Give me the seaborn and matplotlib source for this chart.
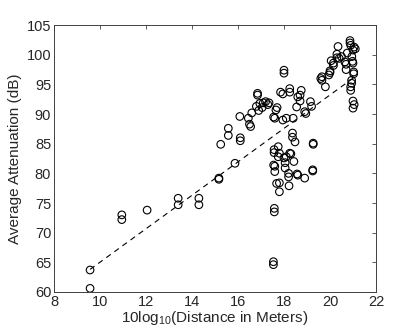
import numpy as np
import pandas as pd
import matplotlib
matplotlib.use('Agg')
import matplotlib.pyplot as plt
import seaborn as sns

# 10log10(distance) and average attenuation
dist_db = [9.57, 9.57, 10.95, 10.95, 12.05, 13.4, 13.4, 14.3, 14.3, 15.17, 15.17,
           15.25, 15.58, 15.58, 15.87, 16.08, 16.1, 16.1, 16.45, 16.5, 16.55, 16.6,
           16.85, 16.85, 16.8, 16.9, 16.95, 17.05, 17.1, 17.2, 17.3, 17.35, 17.55,
           17.6, 17.65, 17.7, 17.85, 17.95, 17.95, 18.0, 18.0, 18.1, 18.25, 18.25,
           18.4, 18.55, 18.6, 18.7, 18.7, 18.75, 18.9, 18.95, 19.15, 19.2, 19.6,
           19.65, 19.65, 19.8, 19.95, 20.0, 20.0, 20.05, 20.15, 20.15, 20.3, 20.3,
           20.35, 20.4, 20.5, 20.65, 20.7, 20.7, 20.75, 20.87, 20.87, 20.9, 20.95,
           21.0, 21.05, 21.1, 21.0, 20.98, 21.03, 21.03, 20.94, 20.94, 20.9, 20.9,
           21.0, 21.05, 21.0, 18.37, 18.37, 18.48, 19.27, 19.27, 17.57, 17.57,
           17.75, 17.75, 17.6, 17.55, 17.6, 17.8, 18.0, 18.05, 18.1, 18.05, 18.3,
           18.25, 18.43, 18.2, 18.2, 18.57, 18.6, 18.9, 19.25, 19.25, 17.68, 17.8,
           17.8, 18.22, 17.58, 17.58, 17.54, 17.54]
atten = [63.7, 60.6, 73.0, 72.2, 73.8, 75.8, 74.7, 75.8, 74.7, 79.2, 79.0,
         84.9, 87.6, 86.4, 81.7, 89.6, 86.0, 85.5, 89.3, 88.3, 87.9, 90.2,
         93.5, 93.2, 91.3, 90.6, 91.8, 91.1, 91.9, 92.1, 91.6, 91.9, 89.5,
         89.3, 90.7, 91.1, 93.7, 93.4, 89.0, 97.4, 96.9, 89.3, 94.3, 93.7,
         89.3, 91.2, 92.9, 93.2, 92.2, 94.0, 90.4, 90.1, 92.1, 91.3, 96.0,
         96.3, 95.7, 94.6, 96.6, 97.3, 97.0, 99.0, 98.6, 98.2, 99.5, 100.1,
         101.4, 99.4, 99.7, 98.8, 98.4, 97.5, 100.3, 102.4, 102.0, 101.6, 99.7,
         100.8, 101.3, 101.0, 98.6, 98.9, 97.1, 96.8, 95.7, 95.2, 94.6, 94.0,
         92.2, 91.6, 91.0, 86.8, 86.1, 85.3, 85.1, 84.9, 84.0, 83.5,
         84.5, 82.8, 81.2, 81.4, 80.3, 83.4, 82.6, 81.8, 82.8, 80.9, 83.3,
         83.4, 82.0, 80.0, 79.4, 79.9, 79.7, 79.2, 80.6, 80.4, 78.3, 78.4,
         76.9, 77.9, 74.1, 73.5, 65.1, 64.6]

# fitted line end points
fit_x = [9.57, 21.09]
fit_y = [63.8, 96.3]

sns.set_style('white')
plt.rcParams['font.family'] = ['Liberation Sans', 'DejaVu Sans']
plt.rcParams['mathtext.default'] = 'regular'

df = pd.DataFrame({'x': dist_db, 'y': atten})
fit = pd.DataFrame({'x': fit_x, 'y': fit_y})

fig = plt.figure(figsize=(4.15, 3.31), dpi=100)
ax = fig.add_axes([0.130, 0.118, 0.776, 0.806])

sns.scatterplot(data=df, x='x', y='y', ax=ax, marker='o', s=30,
                facecolors='none', edgecolor='black', linewidth=0.8)
sns.lineplot(data=fit, x='x', y='y', ax=ax, color='black',
             linestyle=(0, (5, 4)), linewidth=0.8)

ax.set_xlim(8, 22)
ax.set_ylim(60, 105)
ax.set_xticks(range(8, 23, 2))
ax.set_yticks(range(60, 106, 5))
ax.tick_params(direction='in', length=3, width=0.6, color='#404040',
               labelsize=10.5, top=True, right=True, pad=2)
for s in ax.spines.values():
    s.set_color('#404040')
    s.set_linewidth(0.7)
ax.set_xlabel('10log$_{10}$(Distance in Meters)', fontsize=11, labelpad=0)
ax.set_ylabel('Average Attenuation (dB)', fontsize=11, labelpad=3)

fig.savefig('out.png', dpi=100)
